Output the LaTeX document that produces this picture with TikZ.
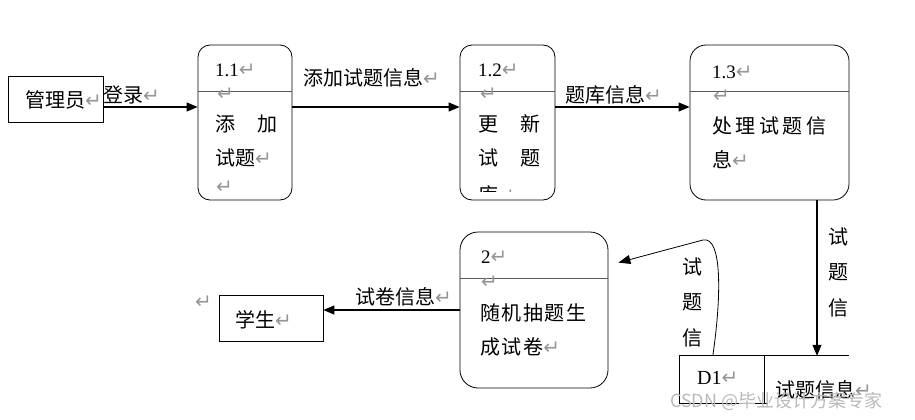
\documentclass[tikz,border=0pt]{standalone}
\usepackage{fontspec}
\setmainfont{Liberation Serif}
\newfontfamily\cjk{Noto Sans CJK SC}
\newfontfamily\retfont{DejaVu Sans}
\usetikzlibrary{arrows.meta, positioning}
\definecolor{retgray}{RGB}{150,150,150}
\definecolor{wmgray}{RGB}{185,185,185}
\newcommand{\retmark}{{\retfont\fontsize{20pt}{20pt}\selectfont\textcolor{retgray}{↵}}}

\begin{document}
\begin{tikzpicture}[x=1pt, y=-1pt,
    proc/.style={draw, rounded corners=12pt, line width=0.8pt, minimum width=#1, minimum height=155pt, inner sep=0},
    ext/.style={draw, line width=0.8pt, inner sep=0},
    zh/.style={font=\cjk\fontsize{20pt}{34pt}\selectfont, inner sep=0, anchor=west},
    num/.style={font=\fontsize{19pt}{22pt}\selectfont, inner sep=0, anchor=west},
    vlab/.style={font=\cjk\fontsize{20pt}{35.5pt}\selectfont, inner sep=0, align=center},
    retnode/.style={inner sep=0, anchor=west},
    flow/.style={-{Triangle[length=11pt, width=9pt]}, line width=1.1pt}
  ]
  \useasboundingbox (0,0) rectangle (915,420);

  % external entities
  \node[ext, minimum width=95pt, minimum height=46pt] (admin) at (55.5,99) {};
  \node[zh] (admintxt) at (25,100) {管理员\retmark};
  \node[ext, minimum width=104pt, minimum height=46pt] (student) at (271,318) {};
  \node[zh] (studenttxt) at (235,320) {学生\retmark};

  % processes
  \node[proc=94pt] (p11) at (245,122.5) {};
  \node[proc=95pt] (p12) at (507.5,122.5) {};
  \node[proc=159pt, rounded corners=16pt] (p13) at (769.5,122.5) {};
  \node[proc=148pt, minimum height=156pt, rounded corners=18pt] (p2) at (534,310) {};
  \foreach \p in {p11,p12,p13,p2}
    \draw[line width=0.8pt, black!65] ([yshift=-47pt]\p.north west) -- ([yshift=-47pt]\p.north east);

  \node[num] (p11id) at (215,70) {1.1\retmark};
  \node[retnode] (p11r) at (217,94) {\retmark};
  \node[zh] (p11a) at (215,124) {添\hspace{22pt}加};
  \node[zh] (p11b) at (215,158) {试题\retmark};
  \node[retnode] (p11c) at (216,187) {\retmark};

  \node[num] (p12id) at (478,70) {1.2\retmark};
  \node[retnode] (p12r) at (480,94) {\retmark};
  \node[zh] (p12a) at (478,124) {更\hspace{22pt}新};
  \node[zh] (p12b) at (478,158) {试\hspace{22pt}题};
  \begin{scope}
    \clip (460,45) rectangle (555,191);
    \node[zh] (p12c) at (478,195) {库\retmark};
  \end{scope}

  \node[num] (p13id) at (712,72) {1.3\retmark};
  \node[retnode] (p13r) at (713,96) {\retmark};
  \node[zh] (p13a) at (712,126) {\addfontfeature{LetterSpace=18}处理试题信};
  \node[zh] (p13b) at (712,160) {息\retmark};

  \node[num] (p2id) at (481,257) {2\retmark};
  \node[retnode] (p2r) at (481,282) {\retmark};
  \node[zh] (p2a) at (480,313) {\addfontfeature{LetterSpace=8}随机抽题生};
  \node[zh] (p2b) at (480,347) {\addfontfeature{LetterSpace=8}成试卷\retmark};

  % data store
  \node[inner sep=0, minimum width=169pt, minimum height=47pt] (d1) at (764.5,379.5) {};
  \draw[line width=0.8pt] (d1.north east) -- (d1.north west) -- (d1.south west) -- ([xshift=88pt]d1.south west);
  \draw[line width=0.8pt] ([xshift=85pt]d1.north west) -- ([xshift=85pt]d1.south west);
  \node[num, font=\fontsize{20pt}{22pt}\selectfont] (d1id) at (697,378) {D1\retmark};
  \node[zh] (d1txt) at (775,390) {试题信息\retmark};

  % labels
  \node[zh] (loginlbl) at (103,95) {登录\retmark};
  \node[zh] (addlbl) at (303,78) {添加试题信息\retmark};
  \node[zh] (banklbl) at (565,95) {题库信息\retmark};
  \node[zh] (paperlbl) at (355,297) {试卷信息\retmark};
  \node[vlab] (qlbl1) at (838,272) {试\\题\\信};
  \node[vlab] (qlbl2) at (692,302) {试\\题\\信};
  \node[retnode] (lone) at (195,302) {\retmark};
  \node[font=\cjk\fontsize{18pt}{18pt}\selectfont, text=wmgray, inner sep=0, anchor=west] (wm) at (670,401) {CSDN @毕业设计方案专家};

  % flows
  \draw[flow] ([yshift=-8pt]admin.east) -- ([yshift=-8pt]admin.east -| p11.west);
  \draw[flow] ([yshift=15.5pt]p11.east) -- ([yshift=15.5pt]p12.west);
  \draw[flow] ([yshift=15.5pt]p12.east) -- ([yshift=15.5pt]p13.west);
  \draw[flow] ([xshift=47.5pt]p13.south) -- ([xshift=47.5pt]p13.south |- d1.north);
  \draw[flow] (p2.west) -- (p2.west -| student.east);
  \coordinate (p2in) at ([shift={(10,31)}]p2.north east);
  \draw[-{Triangle[length=12pt, width=9pt]}, line width=0.8pt] ([xshift=33pt]d1.north west) .. controls (721,300) and (723,236) .. (703,240) -- (p2in);
\end{tikzpicture}
\end{document}
